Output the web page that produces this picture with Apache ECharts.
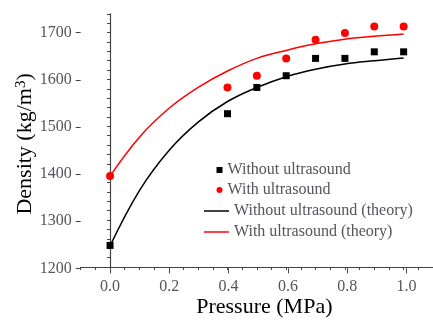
<!DOCTYPE html>
<html>
<head>
<meta charset="utf-8">
<script src="https://cdn.jsdelivr.net/npm/echarts@6/dist/echarts.min.js"></script>
<style>
  html, body { margin: 0; padding: 0; background: #fff; }
  #main { width: 433px; height: 323px; }
</style>
</head>
<body>
<div id="main"></div>
<script>
// measured points
var pressure = [0, 0.4, 0.5, 0.6, 0.7, 0.8, 0.9, 1.0];
var densityWithout = [1246, 1527, 1583, 1608, 1645, 1645, 1659, 1659];
var densityWith = [1394, 1583, 1608, 1645, 1685, 1699, 1713, 1713];

// theory curves
var theoryX = [0, 0.1, 0.2, 0.3, 0.4, 0.5, 0.6, 0.7, 0.8, 0.9, 1.0];
var theoryWithout = [1245, 1363, 1448, 1509, 1553, 1583, 1606, 1622, 1633, 1640, 1646];
var theoryWith = [1394, 1477, 1538, 1583, 1618, 1645, 1662, 1676, 1686, 1692, 1697];

var seriesNames = ['Without ultrasound', 'With ultrasound',
  'Without ultrasound (theory)', 'With ultrasound (theory)'];

var pairs = function (xs, ys) {
  return xs.map(function (x, i) { return [x, ys[i]]; });
};

var font = 'Liberation Serif';
var axisGray = '#444';
// note: giving a color on labels/legend text made them fall back to sans here, so it's left out
var labelFont = { fontFamily: font, fontStyle: 'normal', fontWeight: 'normal', fontSize: 16 };

var chartDom = document.getElementById('main');
var myChart = echarts.init(chartDom);
var option = {
  animation: false,
  grid: [
    // data grid, x -0.1..1.1, y 1200..1740
    { left: 80.7, right: -3.5, top: 13.85, bottom: 54.7 },
    // x labels / major ticks, 0..1
    { left: 110, right: 26.5, top: 13.85, bottom: 54.7 },
    // y labels / major ticks, 1200..1700
    { left: 80.7, width: 50, top: 32.7, bottom: 54.7 }
  ],
  legend: [
    {
      orient: 'vertical', left: 211.5, top: 157,
      itemWidth: 6, itemHeight: 6, itemGap: 4,
      textStyle: labelFont,
      data: [
        { name: seriesNames[0], icon: 'rect' },
        { name: seriesNames[1], icon: 'circle' }
      ]
    },
    {
      orient: 'vertical', left: 199, top: 198,
      itemWidth: 25, itemHeight: 1.5, itemGap: 5, icon: 'rect',
      textStyle: labelFont,
      data: [seriesNames[2], seriesNames[3]]
    }
  ],
  xAxis: [
    {
      gridIndex: 0, type: 'value', min: -0.1, max: 1.1, interval: 0.05,
      axisLine: { show: true, lineStyle: { color: axisGray, width: 1.2 } },
      axisTick: { show: true, length: 3, lineStyle: { color: axisGray } },
      axisLabel: { show: false },
      splitLine: { show: false },
      name: 'Pressure (MPa)', nameLocation: 'middle', nameGap: 29,
      nameTextStyle: { fontFamily: font, fontSize: 22, color: '#000', padding: [0, 0, 0, 15] }
    },
    {
      gridIndex: 1, type: 'value', min: 0, max: 1, interval: 0.2,
      axisLine: { show: false },
      axisTick: { show: true, length: 5, lineStyle: { color: axisGray } },
      axisLabel: {
        show: true, margin: 10,
        fontFamily: font, fontStyle: 'normal', fontWeight: 'normal', fontSize: 16,
        formatter: function (v) { return v.toFixed(1); }
      },
      splitLine: { show: false }
    },
    { gridIndex: 2, type: 'value', min: 0, max: 1, show: false }
  ],
  yAxis: [
    {
      gridIndex: 0, type: 'value', min: 1200, max: 1740, interval: 20,
      axisLine: { show: true, lineStyle: { color: axisGray, width: 1.2 } },
      axisTick: { show: true, length: 3, lineStyle: { color: axisGray } },
      axisLabel: { show: false },
      splitLine: { show: false },
      name: 'Density (kg/m{sup|3})', nameLocation: 'middle', nameGap: 44,
      nameTextStyle: {
        fontFamily: font, fontSize: 22, color: '#000', padding: [0, 7, 0, 0],
        rich: {
          sup: { fontFamily: font, fontSize: 15, color: '#000', verticalAlign: 'top', padding: [0, 0, 8, 0] }
        }
      }
    },
    { gridIndex: 1, type: 'value', min: 1200, max: 1740, show: false },
    {
      gridIndex: 2, type: 'value', min: 1200, max: 1700, interval: 100,
      axisLine: { show: false },
      axisTick: { show: true, length: 5, lineStyle: { color: axisGray } },
      axisLabel: {
        show: true, margin: 9,
        fontFamily: font, fontStyle: 'normal', fontWeight: 'normal', fontSize: 16,
        formatter: function (v) { return String(v); }
      },
      splitLine: { show: false }
    }
  ],
  series: [
    {
      name: seriesNames[0], type: 'scatter', xAxisIndex: 0, yAxisIndex: 0,
      symbol: 'rect', symbolSize: 7, itemStyle: { color: '#000', opacity: 1 },
      data: pairs(pressure, densityWithout), z: 5
    },
    {
      name: seriesNames[1], type: 'scatter', xAxisIndex: 0, yAxisIndex: 0,
      symbol: 'circle', symbolSize: 8, itemStyle: { color: '#ff0000', opacity: 1 },
      data: pairs(pressure, densityWith), z: 5
    },
    {
      name: seriesNames[2], type: 'line', xAxisIndex: 0, yAxisIndex: 0,
      symbol: 'none', smooth: 0.4, lineStyle: { color: '#000', width: 1.5 },
      itemStyle: { color: '#000' },
      data: pairs(theoryX, theoryWithout)
    },
    {
      name: seriesNames[3], type: 'line', xAxisIndex: 0, yAxisIndex: 0,
      symbol: 'none', smooth: 0.4, lineStyle: { color: '#ff0000', width: 1.5 },
      itemStyle: { color: '#ff0000' },
      data: pairs(theoryX, theoryWith)
    }
  ]
};

option && myChart.setOption(option);
</script>
</body>
</html>
